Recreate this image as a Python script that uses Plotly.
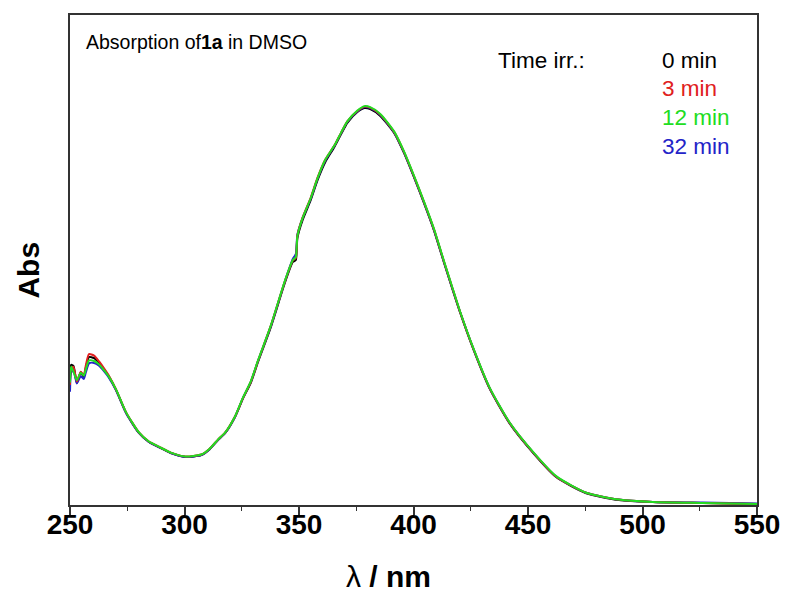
import plotly.graph_objects as go

# wavelength (nm)
wavelength = [250.0, 250.5, 251.5, 253.0, 254.7, 256.0, 257.0, 258.3, 260.5, 262.7,
              265.0, 267.1, 270.1, 274.5, 280.1, 284.3, 288.8, 294.0, 300.4, 307.3,
              311.0, 314.7, 317.8, 322.1, 325.6, 329.0, 332.1, 337.7, 343.8, 347.3,
              348.6, 349.3, 351.6, 355.1, 358.1, 361.5, 365.5, 368.5, 371.1, 375.5,
              378.5, 381.1, 385.5, 391.6, 395.9, 400.2, 404.6, 408.9, 413.3, 416.7,
              420.2, 426.3, 433.2, 441.9, 452.3, 462.3, 475.4, 489.7, 504.5, 526.2,
              550.0]

abs_0min = [0.239, 0.286, 0.284, 0.249, 0.271, 0.261, 0.282, 0.302, 0.300, 0.290,
            0.276, 0.261, 0.235, 0.188, 0.147, 0.129, 0.118, 0.106, 0.098, 0.102,
            0.114, 0.133, 0.147, 0.180, 0.218, 0.250, 0.292, 0.363, 0.453, 0.496,
            0.500, 0.545, 0.582, 0.622, 0.663, 0.700, 0.731, 0.758, 0.780, 0.802,
            0.810, 0.808, 0.794, 0.759, 0.718, 0.669, 0.616, 0.561, 0.495, 0.445,
            0.395, 0.316, 0.238, 0.167, 0.106, 0.057, 0.024, 0.010, 0.006, 0.004,
            0.002]

abs_3min = [0.245, 0.280, 0.282, 0.252, 0.272, 0.265, 0.287, 0.308, 0.305, 0.293,
            0.278, 0.263, 0.236, 0.189, 0.148, 0.130, 0.119, 0.107, 0.099, 0.103,
            0.115, 0.134, 0.148, 0.181, 0.219, 0.252, 0.294, 0.366, 0.456, 0.499,
            0.504, 0.550, 0.587, 0.627, 0.668, 0.705, 0.734, 0.761, 0.783, 0.804,
            0.813, 0.811, 0.797, 0.761, 0.720, 0.671, 0.618, 0.563, 0.497, 0.447,
            0.396, 0.317, 0.239, 0.168, 0.107, 0.058, 0.025, 0.011, 0.006, 0.004,
            0.002]

abs_32min = [0.231, 0.270, 0.276, 0.248, 0.263, 0.257, 0.272, 0.289, 0.290, 0.284,
             0.272, 0.259, 0.234, 0.187, 0.147, 0.129, 0.118, 0.106, 0.098, 0.102,
             0.114, 0.133, 0.147, 0.180, 0.219, 0.252, 0.294, 0.365, 0.456, 0.502,
             0.512, 0.552, 0.586, 0.625, 0.666, 0.703, 0.733, 0.760, 0.782, 0.803,
             0.812, 0.810, 0.796, 0.760, 0.719, 0.670, 0.617, 0.562, 0.496, 0.446,
             0.396, 0.317, 0.239, 0.168, 0.107, 0.058, 0.025, 0.011, 0.006, 0.005,
             0.003]

abs_12min = [0.250, 0.282, 0.272, 0.255, 0.270, 0.264, 0.278, 0.295, 0.294, 0.287,
             0.274, 0.261, 0.236, 0.189, 0.148, 0.130, 0.119, 0.107, 0.099, 0.103,
             0.115, 0.134, 0.148, 0.181, 0.220, 0.253, 0.295, 0.366, 0.457, 0.500,
             0.506, 0.549, 0.586, 0.626, 0.667, 0.705, 0.734, 0.761, 0.783, 0.805,
             0.814, 0.812, 0.798, 0.762, 0.721, 0.672, 0.619, 0.564, 0.498, 0.448,
             0.397, 0.318, 0.240, 0.169, 0.108, 0.059, 0.025, 0.011, 0.006, 0.004,
             0.002]

series = [
    ("0 min", abs_0min, "#000000"),
    ("32 min", abs_32min, "#2424c8"),
    ("3 min", abs_3min, "#e02020"),
    ("12 min", abs_12min, "#22dd22"),
]
legend_order = ["0 min", "3 min", "12 min", "32 min"]
colors = {name: c for name, _, c in series}

x_tick_values = [250, 300, 350, 400, 450, 500, 550]
x_tick_labels = ["250", "300", "350", "400", "450", "500", "550"]

fig = go.Figure()
for name, vals, col in series:
    fig.add_trace(go.Scatter(x=wavelength, y=vals, mode="lines", name=name,
                             line=dict(color=col, width=2, shape="spline", smoothing=0.6),
                             showlegend=False))

font_family = "Liberation Sans, Arial, sans-serif"
axis_col = "#333333"

fig.update_layout(
    width=792, height=594,
    margin=dict(l=70, r=29, t=15, b=89),
    paper_bgcolor="white", plot_bgcolor="white",
    font=dict(family=font_family, color="black"),
    xaxis=dict(
        range=[250, 550], tickvals=x_tick_values, ticktext=x_tick_labels,
        showline=True, mirror=True, linecolor=axis_col, linewidth=1.5,
        ticks="outside", ticklen=8, tickwidth=1.6, tickcolor=axis_col,
        ticklabelstandoff=-14,
        minor=dict(dtick=25, tick0=250, ticks="outside", ticklen=4,
                   tickwidth=1.3, tickcolor=axis_col),
        showgrid=False, zeroline=False,
        tickfont=dict(size=28, family=font_family, weight="bold", color="black"),
    ),
    yaxis=dict(
        range=[0, 1.0],
        showline=True, mirror=True, linecolor=axis_col, linewidth=1.5,
        ticks="", showticklabels=False, showgrid=False, zeroline=False,
    ),
)

# axis titles
fig.add_annotation(x=0.463, y=-0.145, xref="paper", yref="paper",
                   text="λ<b> / nm</b>", showarrow=False,
                   xanchor="center", yanchor="middle",
                   font=dict(size=30, family=font_family, color="black"))
fig.add_annotation(x=-0.060, y=0.48, xref="paper", yref="paper",
                   text="<b>Abs</b>", showarrow=False, textangle=-90,
                   xanchor="center", yanchor="middle",
                   font=dict(size=30, family=font_family, color="black"))

# header text
fig.add_annotation(x=0.021, y=0.945, xref="paper", yref="paper",
                   text="Absorption of<b>1a</b> in DMSO", showarrow=False,
                   xanchor="left", yanchor="middle",
                   font=dict(size=19.5, family=font_family, color="black"))

fig.add_annotation(x=0.620, y=0.908, xref="paper", yref="paper",
                   text="Time irr.:", showarrow=False, xanchor="left", yanchor="middle",
                   font=dict(size=22.5, family=font_family, color="black"))

legend_y = [0.908, 0.851, 0.790, 0.731]
for lab, yy in zip(legend_order, legend_y):
    fig.add_annotation(x=0.859, y=yy, xref="paper", yref="paper",
                       text=lab, showarrow=False, xanchor="left", yanchor="middle",
                       font=dict(size=22.5, family=font_family, color=colors[lab]))

fig.write_html("out.html")
